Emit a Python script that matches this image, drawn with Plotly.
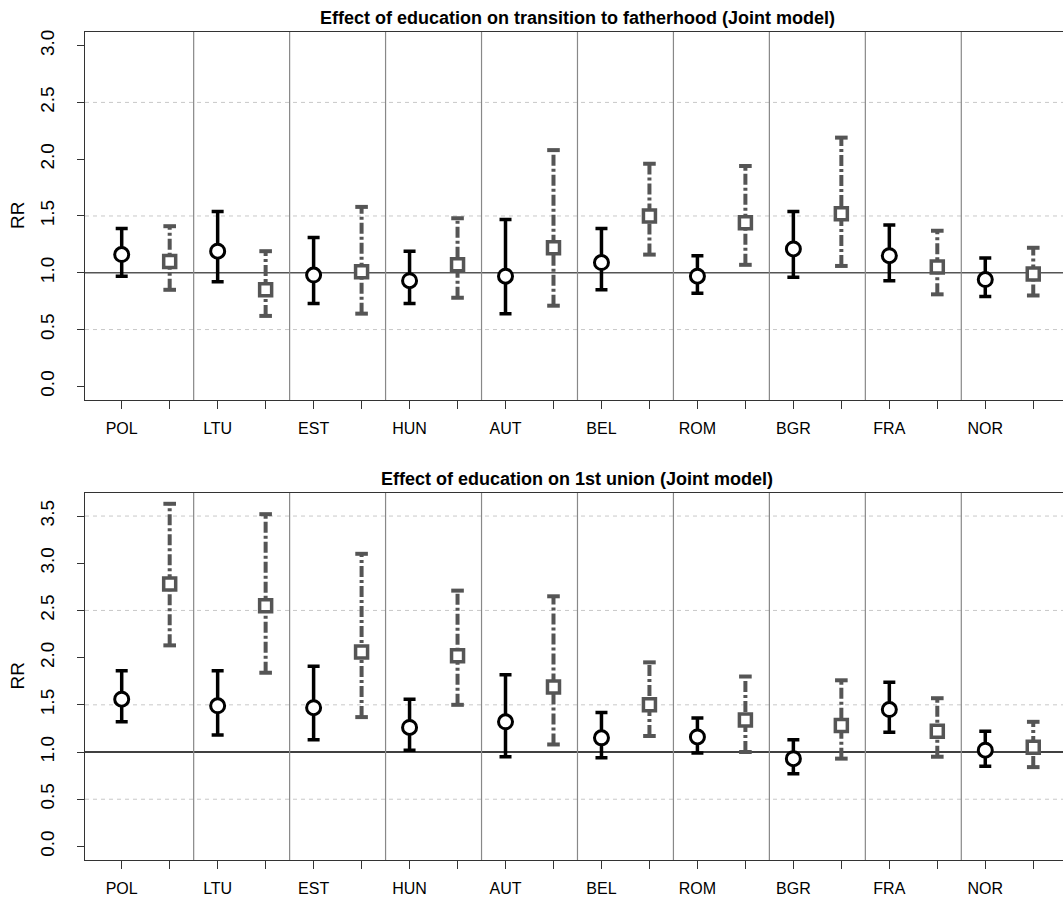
import plotly.graph_objects as go
from plotly.subplots import make_subplots

countries = ["POL", "LTU", "EST", "HUN", "AUT", "BEL", "ROM", "BGR", "FRA", "NOR"]

# Transition to fatherhood
father_circ_est = [1.16, 1.19, 0.98, 0.93, 0.97, 1.09, 0.97, 1.21, 1.15, 0.94]
father_circ_lo = [0.97, 0.92, 0.73, 0.73, 0.64, 0.85, 0.82, 0.96, 0.93, 0.79]
father_circ_hi = [1.39, 1.54, 1.31, 1.19, 1.47, 1.39, 1.15, 1.54, 1.42, 1.13]
father_sq_est = [1.10, 0.85, 1.01, 1.07, 1.22, 1.50, 1.44, 1.52, 1.05, 0.99]
father_sq_lo = [0.85, 0.62, 0.64, 0.78, 0.71, 1.16, 1.07, 1.06, 0.81, 0.80]
father_sq_hi = [1.41, 1.19, 1.58, 1.48, 2.08, 1.96, 1.94, 2.19, 1.37, 1.22]

# First union
union_circ_est = [1.56, 1.49, 1.47, 1.26, 1.32, 1.15, 1.16, 0.93, 1.45, 1.02]
union_circ_lo = [1.32, 1.18, 1.13, 1.02, 0.95, 0.94, 0.99, 0.77, 1.21, 0.85]
union_circ_hi = [1.86, 1.86, 1.91, 1.56, 1.82, 1.42, 1.36, 1.13, 1.74, 1.22]
union_sq_est = [2.78, 2.55, 2.06, 2.02, 1.69, 1.50, 1.34, 1.28, 1.22, 1.05]
union_sq_lo = [2.13, 1.84, 1.37, 1.50, 1.08, 1.17, 1.00, 0.93, 0.95, 0.84]
union_sq_hi = [3.63, 3.52, 3.10, 2.71, 2.65, 1.95, 1.80, 1.76, 1.57, 1.32]

titles = ["Effect of education on transition to fatherhood (Joint model)",
          "Effect of education on 1st union (Joint model)"]
y_limits = [(0, 3.0), (0, 3.6)]
y_ticks = [[0, 0.5, 1, 1.5, 2, 2.5, 3], [0, 0.5, 1, 1.5, 2, 2.5, 3, 3.5]]
grid_vals = [[0.5, 1.5, 2.5], [0.5, 1.5, 2.5, 3.5]]
ref_colors = ["#555555", "#000000"]

FONT = "Liberation Sans, Arial, Helvetica, sans-serif"
GRAY = "#555555"
FRAME = "#333333"

fig = make_subplots(rows=2, cols=1, vertical_spacing=0.1123)
fig.update_layout(
    width=1063, height=900,
    margin=dict(l=85, r=0, t=32, b=40),
    plot_bgcolor="white", paper_bgcolor="white",
    showlegend=False,
    font=dict(family=FONT, color="#000000"),
)
# panel vertical domains (pixel rows 32-400 and 493-860)
fig.update_layout(yaxis=dict(domain=[0.5556, 1.0]), yaxis2=dict(domain=[0.0, 0.4432]))

n = len(countries)
x_circ = [2 * i + 1 for i in range(n)]
x_sq = [2 * i + 2 for i in range(n)]

panels = [
    (father_circ_est, father_circ_lo, father_circ_hi, father_sq_est, father_sq_lo, father_sq_hi),
    (union_circ_est, union_circ_lo, union_circ_hi, union_sq_est, union_sq_lo, union_sq_hi),
]

tick_vals = list(range(1, 2 * n + 1))
tick_text = []
for c in countries:
    tick_text += [c, ""]

for p, (ce, cl, ch, se, sl, sh) in enumerate(panels):
    row = p + 1
    xr = "x" if row == 1 else "x2"
    yr = "y" if row == 1 else "y2"
    lo_lim, hi_lim = y_limits[p]
    ext = (hi_lim - lo_lim) * 0.04

    # light dashed guide lines
    for g in grid_vals[p]:
        fig.add_shape(type="line", xref=f"{xr} domain", yref=yr, x0=0, x1=1, y0=g, y1=g,
                      line=dict(color="#c8c8c8", width=1, dash="4px,4px"), layer="below")
    # reference line at RR = 1
    fig.add_shape(type="line", xref=f"{xr} domain", yref=yr, x0=0, x1=1, y0=1, y1=1,
                  line=dict(color=ref_colors[p], width=1.3), layer="below")
    # country separators
    for k in range(1, n):
        fig.add_shape(type="line", xref=xr, yref=f"{yr} domain", x0=2 * k + 0.5, x1=2 * k + 0.5,
                      y0=0, y1=1, line=dict(color="#888888", width=1.2), layer="below")

    # dash-dot intervals for the square series
    seg_x, seg_y = [], []
    for xi, a, b in zip(x_sq, sl, sh):
        seg_x += [xi, xi, None]
        seg_y += [a, b, None]
    fig.add_trace(go.Scatter(x=seg_x, y=seg_y, mode="lines",
                             line=dict(color=GRAY, width=4, dash="11px,3px,3px,3px"),
                             hoverinfo="skip"), row=row, col=1)
    fig.add_trace(go.Scatter(x=x_sq + x_sq, y=sl + sh, mode="markers",
                             marker=dict(symbol="line-ew", size=9,
                                         line=dict(color=GRAY, width=4)),
                             hoverinfo="skip"), row=row, col=1)
    fig.add_trace(go.Scatter(x=x_sq, y=se, mode="markers",
                             marker=dict(symbol="square", size=12, color="white",
                                         line=dict(color=GRAY, width=3.5))),
                  row=row, col=1)

    # solid intervals for the circle series
    fig.add_trace(go.Scatter(
        x=x_circ, y=ce, mode="markers",
        error_y=dict(type="data", symmetric=False,
                     array=[h - e for h, e in zip(ch, ce)],
                     arrayminus=[e - l for e, l in zip(ce, cl)],
                     color="#000000", thickness=3.5, width=6),
        marker=dict(symbol="circle", size=14, color="white",
                    line=dict(color="#000000", width=3)),
    ), row=row, col=1)

    fig.update_xaxes(row=row, col=1, range=[0.235, 20.62], tickvals=tick_vals, ticktext=tick_text,
                     ticks="outside", ticklen=8, tickwidth=1.3, tickcolor=FRAME,
                     showline=True, linecolor=FRAME, linewidth=1.3, mirror=True,
                     showgrid=False, zeroline=False, ticklabelstandoff=6,
                     tickfont=dict(size=16, family=FONT, color="#000000"))
    fig.update_yaxes(row=row, col=1, range=[lo_lim - ext, hi_lim + ext],
                     tickvals=y_ticks[p], ticktext=[f"{v:.1f}" for v in y_ticks[p]],
                     tickangle=-90, ticks="outside", ticklen=7, tickwidth=1.3, tickcolor=FRAME,
                     showline=True, linecolor=FRAME, linewidth=1.3, mirror=False,
                     showgrid=False, zeroline=False, ticklabelstandoff=15,
                     tickfont=dict(size=19, family=FONT, color="#000000"))

    fig.add_annotation(text=f"<b>{titles[p]}</b>", xref=xr, yref=f"{yr} domain",
                       x=10.5, y=1, xanchor="center", yanchor="bottom", yshift=2,
                       showarrow=False, font=dict(size=18, family=FONT, color="#000000"))
    fig.add_annotation(text="RR", xref="paper", yref=f"{yr} domain", x=0, y=0.5,
                       xanchor="center", yanchor="middle", xshift=-67, textangle=-90,
                       showarrow=False, font=dict(size=19, family=FONT, color="#000000"))

fig.write_html("out.html")
